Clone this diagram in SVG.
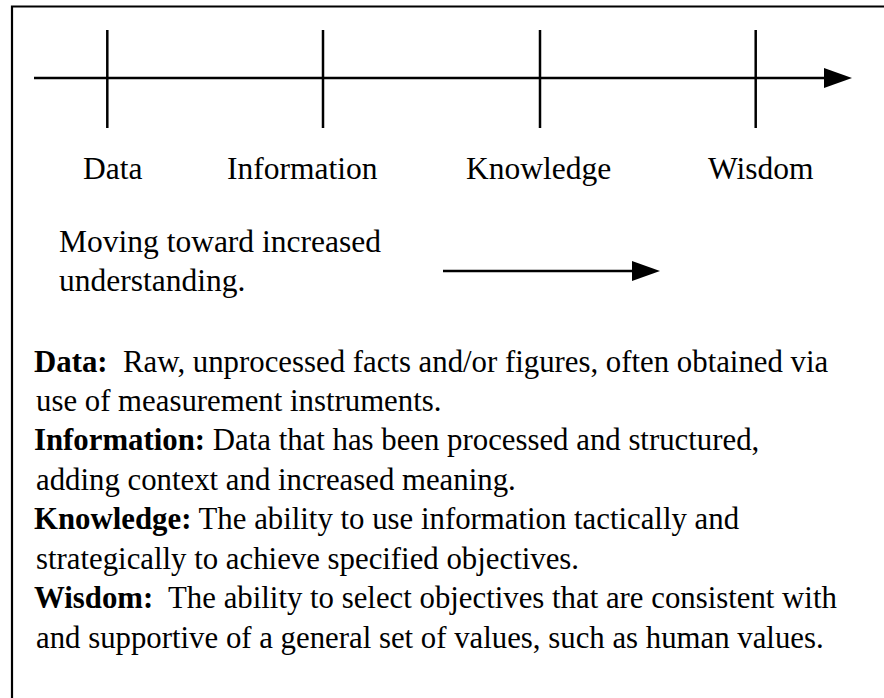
<svg xmlns="http://www.w3.org/2000/svg" width="884" height="698" viewBox="0 0 884 698">
<style>
.ln{stroke:#000;stroke-width:2.5;fill:none}
.lbl{font-family:"Liberation Serif","Times New Roman",serif;font-size:31.5px;fill:#000}
.body{font-family:"Liberation Serif","Times New Roman",serif;font-size:30.8px;fill:#000;white-space:pre}
.b{font-weight:bold}
</style>
<defs>
<marker id="ah" markerUnits="userSpaceOnUse" markerWidth="30" markerHeight="22" refX="0" refY="10" orient="auto" viewBox="0 0 30 22">
<path d="M0,0 L28,10 L0,20 Z" fill="#000"/>
</marker>
</defs>
<rect width="884" height="698" fill="#fff"/>
<path d="M12,698 V6.5 H884" stroke="#000" stroke-width="2.2" fill="none"/>
<g id="connectors">
<line class="ln" x1="34" y1="78" x2="824" y2="78" marker-end="url(#ah)"/>
<line class="ln" x1="443" y1="271" x2="632" y2="271" marker-end="url(#ah)"/>
</g>
<g id="node-data">
<line class="ln" x1="107.3" y1="30" x2="107.3" y2="128"/>
<text class="lbl" x="83" y="179">Data</text>
</g>
<g id="node-information">
<line class="ln" x1="323" y1="30" x2="323" y2="128"/>
<text class="lbl" x="227" y="179">Information</text>
</g>
<g id="node-knowledge">
<line class="ln" x1="540" y1="30" x2="540" y2="128"/>
<text class="lbl" x="466" y="179">Knowledge</text>
</g>
<g id="node-wisdom">
<line class="ln" x1="755.7" y1="30" x2="755.7" y2="128"/>
<text class="lbl" x="708" y="179">Wisdom</text>
</g>
<g id="caption">
<text class="lbl" x="59" y="252">Moving toward increased</text>
<text class="lbl" x="59" y="291">understanding.</text>
</g>
<g id="definitions">
<text class="body" x="34" y="372" xml:space="preserve"><tspan class="b">Data:</tspan>  Raw, unprocessed facts and/or figures, often obtained via</text>
<text class="body" x="36" y="411">use of measurement instruments.</text>
<text class="body" x="34" y="450" xml:space="preserve"><tspan class="b">Information:</tspan> Data that has been processed and structured,</text>
<text class="body" x="36" y="490">adding context and increased meaning.</text>
<text class="body" x="34" y="529" xml:space="preserve"><tspan class="b">Knowledge:</tspan> The ability to use information tactically and</text>
<text class="body" x="36" y="569">strategically to achieve specified objectives.</text>
<text class="body" x="34" y="608" xml:space="preserve"><tspan class="b">Wisdom:</tspan>  The ability to select objectives that are consistent with</text>
<text class="body" x="36" y="648">and supportive of a general set of values, such as human values.</text>
</g>
</svg>
